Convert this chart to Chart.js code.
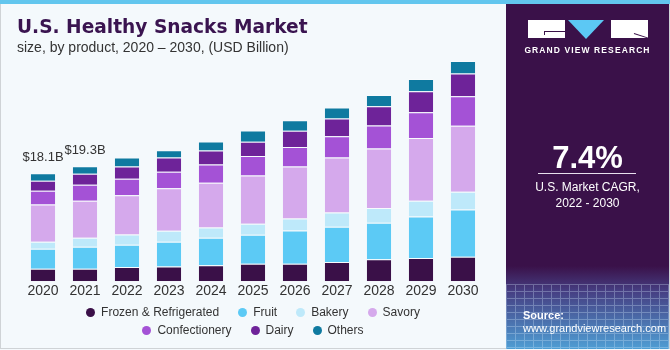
<!DOCTYPE html>
<html>
<head>
<meta charset="utf-8">
<script src="https://cdn.jsdelivr.net/npm/chart.js@4"></script>
<style>
    body { margin: 0; }
    #wrap { position: relative; width: 670px; height: 350px; background: #f4f9fc; overflow: hidden; font-family: "Liberation Sans", Arial, sans-serif; }
    #topbar { position: absolute; left: 0; top: 0; width: 670px; height: 4px; background: #62c6ee; }
    #frame { position: absolute; left: 0; top: 4px; width: 668px; height: 344px; border: 1px solid #cfd3d6; border-top: none; }
    #title { position: absolute; left: 17px; top: 16px; font-family: "DejaVu Sans", sans-serif; font-weight: bold; font-size: 18.6px; color: #3a1450; white-space: nowrap; }
    #subtitle { position: absolute; left: 17px; top: 39px; font-size: 14px; color: #333; white-space: nowrap; }
    #chartBox { position: absolute; left: 0; top: 0; width: 505px; height: 350px; }
    #legendBox { position: absolute; left: 83px; top: 303px; width: 340px; }
    #legendBox ul { list-style: none; margin: 0; padding: 0; display: flex; flex-wrap: wrap; justify-content: center; column-gap: 19px; }
    #legendBox li { display: flex; align-items: center; height: 18px; font-size: 12px; color: #333; white-space: nowrap; }
    #legendBox li span { display: inline-block; width: 9px; height: 9px; border-radius: 50%; margin-right: 6px; }
    #panel { position: absolute; left: 506px; top: 4px; width: 163px; height: 345px; background: #3a1149; overflow: hidden; }
    #panelGlow { position: absolute; left: 0; top: 262px; width: 163px; height: 83px;
        background: linear-gradient(to bottom, rgba(58,17,73,0) 0%, rgba(72,70,140,0.85) 30%, #4f9ed4 100%); }
    #panelGrid { position: absolute; left: 0; top: 280px; width: 163px; height: 65px; opacity: 0.3;
        background-image: repeating-linear-gradient(to right, #d6ecff 0 1px, transparent 1px 9px),
                          repeating-linear-gradient(to bottom, #d6ecff 0 1px, transparent 1px 7px); }
    .logoBlock { position: absolute; top: 16px; height: 18px; background: #ffffff; }
    .logoMark { position: absolute; background: #3a1149; }
    #logoTri { position: absolute; left: 62px; top: 16px; width: 0; height: 0;
        border-left: 18px solid transparent; border-right: 18px solid transparent; border-top: 19px solid #5cc8f4; }
    #brand { position: absolute; left: 0; width: 163px; top: 41px; text-align: center; color: #fff; font-size: 8.5px; font-weight: bold; letter-spacing: 1.1px; }
    #cagr { position: absolute; left: 0; width: 163px; top: 136px; text-align: center; color: #fff; font-size: 31px; font-weight: bold; }
    #cagrLine { position: absolute; left: 32px; top: 169px; width: 98px; height: 1px; background: #e8e0ee; }
    #cagrText { position: absolute; left: 0; width: 163px; top: 175px; text-align: center; color: #fff; font-size: 12px; line-height: 16px; }
    #source { position: absolute; left: 17px; top: 305px; color: #fff; font-size: 11px; line-height: 13px; }
</style>
</head>
<body>
<div id="wrap">
    <div id="chartBox"><canvas id="chartSnacks" width="505" height="350"></canvas></div>
    <div id="legendBox"></div>
    <div id="topbar"></div>
    <div id="frame"></div>
    <div id="title">U.S. Healthy Snacks Market</div>
    <div id="subtitle">size, by product, 2020 – 2030, (USD Billion)</div>
    <div id="panel">
        <div id="panelGlow"></div>
        <div id="panelGrid"></div>
        <div class="logoBlock" style="left:22px;width:37px;"></div>
        <div class="logoMark" style="left:38px;top:27px;width:21px;height:1px;"></div>
        <div class="logoMark" style="left:38px;top:27px;width:1px;height:4px;"></div>
        <div id="logoTri"></div>
        <div class="logoBlock" style="left:105px;width:37px;"></div>
        <div class="logoMark" style="left:128px;top:29px;width:15px;height:1px;transform:rotate(18deg);transform-origin:left center;"></div>
        <div id="brand">GRAND VIEW RESEARCH</div>
        <div id="cagr">7.4%</div>
        <div id="cagrLine"></div>
        <div id="cagrText">U.S. Market CAGR,<br>2022 - 2030</div>
        <div id="source"><b>Source:</b><br>www.grandviewresearch.com</div>
    </div>
</div>
<script>
// datos (USD Billion)
const years = ['2020', '2021', '2022', '2023', '2024', '2025', '2026', '2027', '2028', '2029', '2030'];

const frozen        = [2.07, 2.07, 2.40, 2.45, 2.67, 2.95, 2.95, 3.24, 3.67, 3.91, 4.12];
const fruit         = [3.39, 3.72, 3.72, 4.17, 4.62, 4.84, 5.56, 5.89, 6.13, 6.95, 7.90];
const bakery        = [1.17, 1.50, 1.72, 1.84, 1.72, 1.84, 2.00, 2.39, 2.50, 2.67, 3.00];
const savory        = [6.23, 6.23, 6.58, 7.13, 7.51, 8.13, 8.75, 9.25, 9.97, 10.52, 11.09];
const confectionery = [2.34, 2.67, 2.77, 2.77, 3.07, 3.27, 3.27, 3.56, 3.89, 4.34, 4.94];
const dairy         = [1.67, 1.84, 2.07, 2.40, 2.34, 2.40, 2.74, 3.00, 3.22, 3.51, 3.84];
const others        = [1.24, 1.27, 1.50, 1.22, 1.55, 1.89, 1.77, 1.84, 1.90, 2.07, 2.07];

const totalLabels = ['$18.1B', '$19.3B', '', '', '', '', '', '', '', '', ''];

const series = [
    { label: 'Frozen & Refrigerated', data: frozen, color: '#3a1048' },
    { label: 'Fruit', data: fruit, color: '#5ccaf5' },
    { label: 'Bakery', data: bakery, color: '#bee9fa' },
    { label: 'Savory', data: savory, color: '#d5a9ec' },
    { label: 'Confectionery', data: confectionery, color: '#a452d6' },
    { label: 'Dairy', data: dairy, color: '#6e2399' },
    { label: 'Others', data: others, color: '#0f7aa0' }
];

// etiquetas de total encima de las barras
const totalesPlugin = {
    id: 'totales',
    afterDatasetsDraw(chart) {
        const ctx = chart.ctx;
        const x = chart.scales.x;
        const y = chart.scales.y;
        ctx.save();
        ctx.font = '13px "Liberation Sans", Arial, sans-serif';
        ctx.fillStyle = '#333333';
        ctx.textAlign = 'center';
        ctx.textBaseline = 'bottom';
        totalLabels.forEach((txt, i) => {
            if (!txt) return;
            const total = series.reduce((s, d) => s + d.data[i], 0);
            ctx.fillText(txt, x.getPixelForValue(i), y.getPixelForValue(total) - 9);
        });
        ctx.restore();
    }
};

// leyenda en HTML a partir de los items de Chart.js
const htmlLegendPlugin = {
    id: 'htmlLegend',
    afterUpdate(chart) {
        const box = document.getElementById('legendBox');
        box.innerHTML = '';
        const ul = document.createElement('ul');
        const items = chart.options.plugins.legend.labels.generateLabels(chart);
        items.forEach(item => {
            const li = document.createElement('li');
            const dot = document.createElement('span');
            dot.style.background = item.fillStyle;
            li.appendChild(dot);
            li.appendChild(document.createTextNode(item.text));
            ul.appendChild(li);
        });
        box.appendChild(ul);
    }
};

const ctx = document.getElementById('chartSnacks');

new Chart(ctx, {
    type: 'bar',
    data: {
        labels: years,
        datasets: series.map(s => ({
            label: s.label,
            data: s.data,
            backgroundColor: s.color,
            borderColor: 'rgba(255,255,255,0.35)',
            borderWidth: { top: 1, left: 0, right: 0, bottom: 0 },
            borderSkipped: false,
            barPercentage: 0.58,
            categoryPercentage: 1
        }))
    },
    options: {
        responsive: false,
        animation: false,
        layout: {
            padding: { left: 22, right: 21, top: 43, bottom: 48 }
        },
        plugins: {
            legend: { display: false },
            tooltip: { enabled: false }
        },
        scales: {
            x: {
                stacked: true,
                grid: { display: false, drawTicks: false },
                border: { display: false },
                ticks: {
                    color: '#333333',
                    padding: 2,
                    font: { family: '"Liberation Sans", Arial, sans-serif', size: 14 }
                }
            },
            y: {
                stacked: true,
                display: false,
                min: 0,
                max: 40
            }
        }
    },
    plugins: [totalesPlugin, htmlLegendPlugin]
});
</script>
</body>
</html>
